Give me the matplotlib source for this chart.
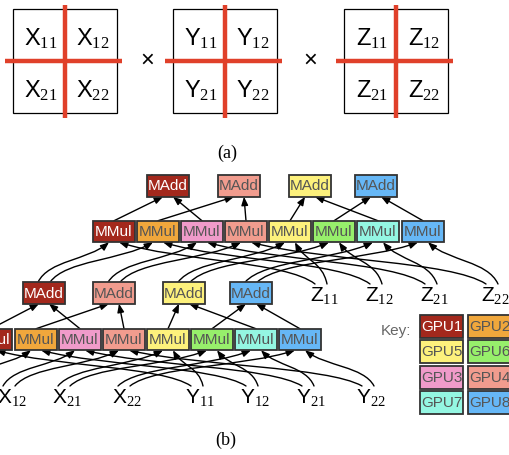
import matplotlib
matplotlib.use("Agg")
import matplotlib.pyplot as plt
from matplotlib.patches import Rectangle, FancyArrowPatch
from matplotlib.path import Path

plt.rcParams['font.family'] = ['Liberation Sans', 'DejaVu Sans']
plt.rcParams['mathtext.fontset'] = 'custom'
plt.rcParams['mathtext.rm'] = 'Liberation Serif'
plt.rcParams['mathtext.it'] = 'Liberation Serif:italic'

# ---- data -------------------------------------------------------------
matrices = ['X', 'Y', 'Z']
blocks = ['11', '12', '21', '22']

gpu_colors = {1: '#a3281c', 2: '#f0a73c', 3: '#f09bca', 4: '#f19c8e',
              5: '#fdf17c', 6: '#97ef6b', 7: '#94f6e2', 8: '#66b7f6'}
key_rows = [[1, 2], [5, 6], [3, 4], [7, 8]]

# order of the multiply nodes in each row (by gpu)
mul_gpus = [1, 2, 3, 4, 5, 6, 7, 8]
add_gpus = [1, 4, 5, 8]

# first stage: X*Y
low_mul_inputs = [('X11', 'Y11'), ('X11', 'Y12'), ('X12', 'Y21'), ('X12', 'Y22'),
                  ('X21', 'Y11'), ('X21', 'Y12'), ('X22', 'Y21'), ('X22', 'Y22')]
# sums of multiplies (indices into mul row)
add_inputs = [(0, 2), (1, 3), (4, 6), (5, 7)]
# second stage: (XY)*Z, first operand is an index into the add row
up_mul_inputs = [(0, 'Z11'), (0, 'Z12'), (1, 'Z21'), (1, 'Z22'),
                 (2, 'Z11'), (2, 'Z12'), (3, 'Z21'), (3, 'Z22')]

# ---- layout -----------------------------------------------------------
fig = plt.figure(figsize=(5.1, 4.55), dpi=100)
ax = fig.add_axes([0, 0, 1, 1])
ax.set_xlim(0, 510)
ax.set_ylim(455, 0)
ax.axis('off')


def sub_label(name):
    return name[0] + r'$_{\mathrm{' + name[1:] + '}}$'


# (a) block matrices
mat_left = [13, 173, 344]
for m, left in zip(matrices, mat_left):
    size = 104
    top = 8.5
    ax.add_patch(Rectangle((left, top), size, size, fill=False, ec='black', lw=0.9))
    cx = left + size / 2
    cy = top + size / 2
    ax.plot([cx, cx], [top - 4, top + size + 5], color='#e0402a', lw=3.2,
            solid_capstyle='butt')
    ax.plot([left - 8, left + size + 5], [cy, cy], color='#e0402a', lw=3.2,
            solid_capstyle='butt')
    for i, b in enumerate(blocks):
        bx = left + size * (0.27 + 0.5 * (i % 2))
        by = top + size * (0.29 + 0.5 * (i // 2))
        ax.text(bx, by, sub_label(m + b), fontsize=17, ha='center', va='center')

for x in [147, 310]:
    ax.text(x, 61, '×', fontsize=17, ha='center', va='center')

ax.text(227, 153, '(a)', fontsize=13, family='Liberation Serif', ha='center', va='center')
ax.text(226, 440, '(b)', fontsize=13, family='Liberation Serif', ha='center', va='center')

# (b) graph
up_add_x = [168, 239, 310, 376]
up_add_y = 186
up_mul_x = [114, 158, 202, 246, 290, 334, 378, 423]
up_mul_y = 231.5
low_add_x = [44, 114, 184, 251]
low_add_y = 293
low_mul_x = [-9, 36, 80, 124, 168, 212, 256, 300]
low_mul_y = 339.5
box_w, box_h = 42, 21.5

label_pos = {'X11': (-45, 397), 'X12': (12, 397), 'X21': (67, 397), 'X22': (127, 397),
             'Y11': (200, 397), 'Y12': (255, 397), 'Y21': (311, 397), 'Y22': (371, 397),
             'Z11': (324, 295), 'Z12': (379, 295), 'Z21': (434, 295), 'Z22': (495, 295)}


def draw_box(cx, cy, text, gpu, w=box_w, h=box_h, fs=11):
    ax.add_patch(Rectangle((cx - w / 2, cy - h / 2), w, h, fc=gpu_colors[gpu],
                           ec='#333333', lw=1.3, zorder=3))
    tc = 'white' if gpu == 1 else '#555555'
    ax.text(cx, cy + 0.5, text, fontsize=fs, color=tc, ha='center', va='center', zorder=4)


nodes = {}
for i, g in enumerate(add_gpus):
    nodes[('ua', i)] = (up_add_x[i], up_add_y, 'MAdd', g)
    nodes[('la', i)] = (low_add_x[i], low_add_y, 'MAdd', g)
for i, g in enumerate(mul_gpus):
    nodes[('um', i)] = (up_mul_x[i], up_mul_y, 'MMul', g)
    nodes[('lm', i)] = (low_mul_x[i], low_mul_y, 'MMul', g)

edges = []
for i, (a, b) in enumerate(low_mul_inputs):
    edges += [(a, ('lm', i)), (b, ('lm', i))]
for i, (a, b) in enumerate(add_inputs):
    edges += [(('lm', a), ('la', i)), (('lm', b), ('la', i))]
for i, (a, z) in enumerate(up_mul_inputs):
    edges += [(('la', a), ('um', i)), (z, ('um', i))]
for i, (a, b) in enumerate(add_inputs):
    edges += [(('um', a), ('ua', i)), (('um', b), ('ua', i))]


def src_point(n):
    if n in label_pos:
        x, y = label_pos[n]
        return x - 3, y - 11
    x, y = nodes[n][:2]
    return x, y - box_h / 2


def dst_point(n):
    x, y = nodes[n][:2]
    return x, y + box_h / 2


# spread the ends of edges that share a node
out_edges, in_edges = {}, {}
for s, t in edges:
    out_edges.setdefault(s, []).append(t)
    in_edges.setdefault(t, []).append(s)

start_off, end_off = {}, {}
for s, ts in out_edges.items():
    ts = sorted(ts, key=lambda t: dst_point(t)[0])
    for k, t in enumerate(ts):
        start_off[(s, t)] = 0 if len(ts) == 1 else (-6 if k == 0 else 6)
for t, ss in in_edges.items():
    ss = sorted(ss, key=lambda s: src_point(s)[0])
    for k, s in enumerate(ss):
        end_off[(s, t)] = -5 if k == 0 else 5

for s, t in edges:
    x0, y0 = src_point(s)
    x1, y1 = dst_point(t)
    x0 += start_off[(s, t)]
    x1 += end_off[(s, t)]
    dx, dy = x1 - x0, y0 - y1
    if s in nodes and nodes[s][2] == 'MMul':
        # multiply -> add edges are straight
        verts = [(x0, y0), (x0 + dx / 3, y0 - dy / 3), (x0 + 2 * dx / 3, y0 - 2 * dy / 3), (x1, y1)]
    else:
        verts = [(x0, y0), (x0 + 0.15 * dx, y0 - 0.55 * dy),
                 (x1 - 0.3 * dx, y1 + 0.45 * dy), (x1, y1)]
    path = Path(verts, [Path.MOVETO, Path.CURVE4, Path.CURVE4, Path.CURVE4])
    ax.add_patch(FancyArrowPatch(path=path, arrowstyle='-|>,head_length=0.5,head_width=0.2',
                                 mutation_scale=10, lw=1.0, color='black', zorder=2))

for key, (x, y, text, g) in nodes.items():
    draw_box(x, y, text, g)

for name, (x, y) in label_pos.items():
    ax.text(x, y, sub_label(name), fontsize=15, ha='center', va='center')

# key
ax.text(396, 331, 'Key:', fontsize=11, color='#666666', ha='center', va='center')
key_x = [441.5, 489.5]
key_y = [326.5, 351.5, 377, 402.5]
for r, row in enumerate(key_rows):
    for c, g in enumerate(row):
        draw_box(key_x[c], key_y[r], 'GPU%d' % g, g, w=43, h=23, fs=11)

fig.savefig('out.png', dpi=100)
